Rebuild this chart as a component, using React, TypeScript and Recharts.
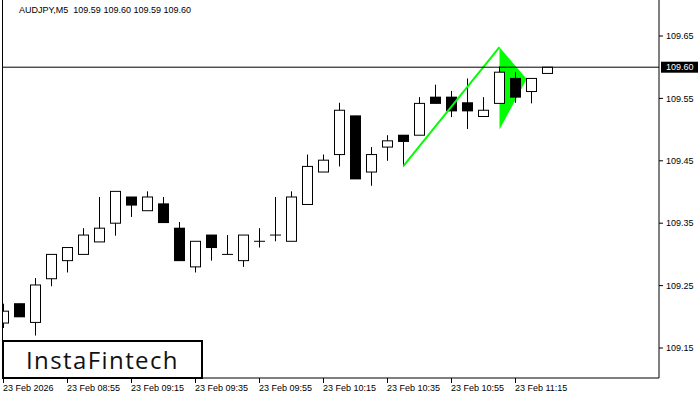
import React from "react";
import {
  ComposedChart,
  Bar,
  Line,
  Area,
  XAxis,
  YAxis,
  ReferenceLine,
} from "recharts";

// AUDJPY M5 candles
const opens = [
  109.19, 109.221, 109.191, 109.261, 109.29, 109.3, 109.32, 109.35, 109.392, 109.37,
  109.381, 109.342, 109.28, 109.331, 109.3, 109.29, 109.321, 109.331, 109.321, 109.38,
  109.432, 109.46, 109.522, 109.432, 109.472, 109.491, 109.491, 109.552, 109.552, 109.543,
  109.521, 109.542, 109.582, 109.561, 109.59,
];
const highs = [
  109.221, 109.221, 109.262, 109.3, 109.311, 109.342, 109.392, 109.401, 109.392, 109.401,
  109.392, 109.352, 109.321, 109.331, 109.331, 109.331, 109.342, 109.392, 109.401, 109.46,
  109.46, 109.543, 109.522, 109.472, 109.491, 109.491, 109.552, 109.572, 109.562, 109.582,
  109.552, 109.601, 109.592, 109.582, 109.6,
];
const lows = [
  109.182, 109.2, 109.17, 109.249, 109.271, 109.3, 109.32, 109.33, 109.36, 109.37,
  109.351, 109.29, 109.271, 109.29, 109.3, 109.28, 109.311, 109.321, 109.321, 109.38,
  109.432, 109.441, 109.421, 109.41, 109.45, 109.441, 109.491, 109.542, 109.52, 109.501,
  109.521, 109.542, 109.543, 109.542, 109.59,
];
const closes = [
  109.209, 109.2, 109.251, 109.3, 109.311, 109.331, 109.342, 109.401, 109.379, 109.392,
  109.351, 109.29, 109.321, 109.311, 109.3, 109.331, 109.321, 109.331, 109.392, 109.441,
  109.451, 109.531, 109.421, 109.46, 109.482, 109.481, 109.542, 109.542, 109.53, 109.53,
  109.531, 109.592, 109.552, 109.582, 109.6,
];

const xTicks = [0, 4, 8, 12, 16, 20, 24, 28, 32];
const xTickLabels = [
  "23 Feb 2026",
  "23 Feb 08:55",
  "23 Feb 09:15",
  "23 Feb 09:35",
  "23 Feb 09:55",
  "23 Feb 10:15",
  "23 Feb 10:35",
  "23 Feb 10:55",
  "23 Feb 11:15",
];
const yTicks = [109.15, 109.25, 109.35, 109.45, 109.55, 109.65];
const lastPrice = 109.6;

// bullish pennant: pole + flag
const poleIdx = [25, 31];
const polePrice = [109.442, 109.632];
const flagIdx = [31, 32.7];
const flagLow = [109.5, 109.581];
const flagHigh = [109.632, 109.581];

const candles = opens.map((o, i) => ({
  i,
  o,
  h: highs[i],
  l: lows[i],
  c: closes[i],
  range: [lows[i], highs[i]],
}));
const poleData = poleIdx.map((i, k) => ({ i, p: polePrice[k] }));
const flagData = flagIdx.map((i, k) => ({ i, band: [flagLow[k], flagHigh[k]] }));

const FONT = "'Liberation Sans', Arial, sans-serif";

const Candle = (props: any) => {
  const { x, y, width, height, payload } = props;
  if (!payload) return null;
  const { o, h, l, c } = payload;
  const cx = Math.round(x + width / 2 - 0.5) + 0.5;
  const top = Math.min(y, y + height);
  const span = Math.abs(height);
  const ppu = span / (h - l);
  const yOf = (v: number) => top + (h - v) * ppu;
  const bTop = yOf(Math.max(o, c));
  const bBot = yOf(Math.min(o, c));
  const up = c > o;
  const doji = c === o;
  return (
    <g>
      <line x1={cx} x2={cx} y1={top} y2={top + span} stroke="#000" strokeWidth={1} />
      {doji ? (
        <line x1={cx - 5.5} x2={cx + 5.5} y1={bTop} y2={bTop} stroke="#000" strokeWidth={1} />
      ) : up ? (
        <rect x={cx - 5} y={bTop} width={10} height={bBot - bTop} fill="#fff" stroke="#000" strokeWidth={1} />
      ) : (
        <rect x={cx - 5.5} y={bTop - 0.5} width={11} height={bBot - bTop + 1} fill="#000" />
      )}
    </g>
  );
};

const XTick = (props: any) => {
  const { x, y, payload } = props;
  const k = xTicks.indexOf(payload.value);
  return (
    <text x={x - 0.5} y={y} dy="0.75em" textAnchor="start" fontSize={9} fill="#000" fontFamily={FONT}>
      {xTickLabels[k]}
    </text>
  );
};

const PriceTag = (props: any) => {
  const { viewBox } = props;
  const right = viewBox.x + viewBox.width;
  return (
    <g>
      <rect x={right + 2} y={viewBox.y - 5.5} width={37} height={11} fill="#000" />
      <text x={right + 7} y={viewBox.y} dy="0.35em" fontSize={9} fill="#fff" fontFamily={FONT}>
        {lastPrice.toFixed(2)}
      </text>
    </g>
  );
};

export default function App() {
  return (
    <div
      style={{
        position: "absolute",
        left: 0,
        top: 0,
        width: 700,
        height: 400,
        background: "#fff",
        fontFamily: FONT,
      }}
    >
      <ComposedChart
        width={700}
        height={400}
        data={candles}
        margin={{ top: 0, right: 0, bottom: 0, left: 2 }}
      >
        <XAxis
          dataKey="i"
          type="number"
          domain={[-0.09375, 40.96875]}
          allowDataOverflow
          ticks={xTicks}
          interval={0}
          height={22}
          tick={<XTick />}
          tickSize={5}
          tickMargin={1}
          axisLine={{ stroke: "#000" }}
          tickLine={{ stroke: "#000" }}
        />
        <YAxis
          orientation="right"
          type="number"
          domain={[109.10192, 109.70769]}
          allowDataOverflow
          ticks={yTicks}
          interval={0}
          width={41}
          tickSize={4}
          tickMargin={3}
          tickFormatter={(v: number) => v.toFixed(2)}
          tick={{ fontSize: 9, fill: "#000", fontFamily: FONT }}
          axisLine={{ stroke: "#000" }}
          tickLine={{ stroke: "#000" }}
        />
        <Bar dataKey="range" barSize={11} shape={<Candle />} isAnimationActive={false} />
        <Area
          data={flagData}
          dataKey="band"
          stroke="none"
          fill="#00ff00"
          fillOpacity={1}
          isAnimationActive={false}
          dot={false}
          activeDot={false}
        />
        <Line
          data={poleData}
          dataKey="p"
          stroke="#00ff00"
          strokeWidth={2}
          dot={false}
          activeDot={false}
          isAnimationActive={false}
        />
        <ReferenceLine y={lastPrice} stroke="#000" strokeWidth={1} label={<PriceTag />} />
      </ComposedChart>

      {/* left frame edge */}
      <div style={{ position: "absolute", left: 2, top: 0, width: 1, height: 378, background: "#000" }} />

      {/* symbol header */}
      <div
        style={{
          position: "absolute",
          left: 19,
          top: 4,
          fontSize: 9,
          lineHeight: "12px",
          whiteSpace: "pre",
          color: "#000",
        }}
      >
        {"AUDJPY,M5  109.59 109.60 109.59 109.60"}
      </div>

      {/* logo */}
      <div
        style={{
          position: "absolute",
          left: 2,
          top: 340,
          width: 197,
          height: 35,
          border: "2px solid #000",
          background: "#fff",
          display: "flex",
          alignItems: "center",
          justifyContent: "center",
          fontFamily: "'Open Sans', sans-serif",
          fontWeight: 500,
          fontSize: 24,
          letterSpacing: 1.4,
          color: "#111",
        }}
      >
        InstaFintech
      </div>
    </div>
  );
}
